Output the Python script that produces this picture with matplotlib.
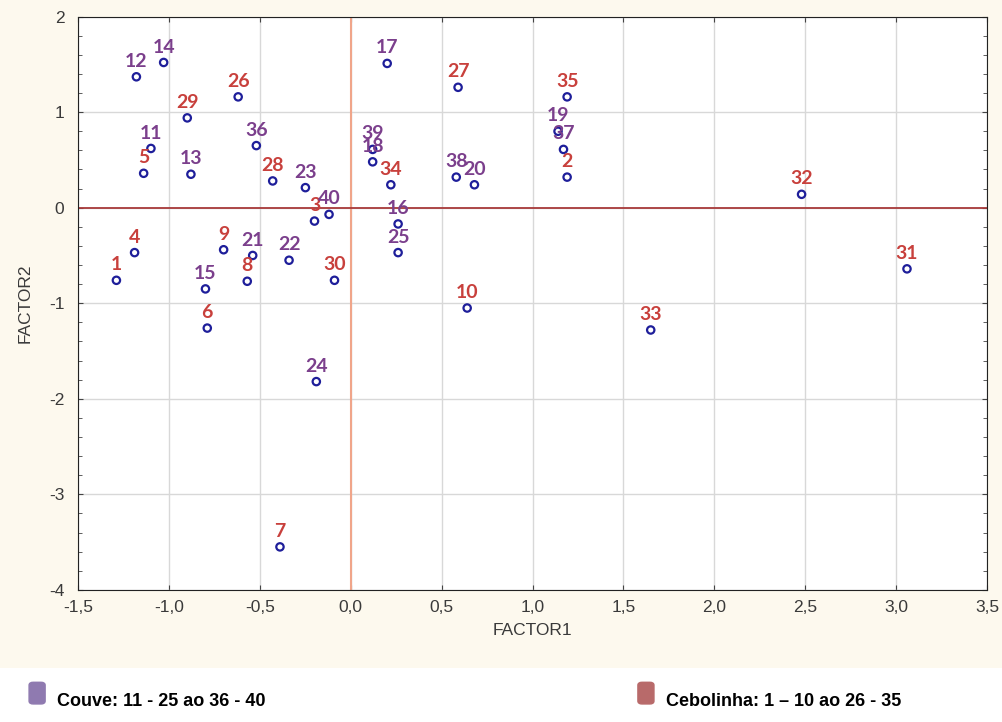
import matplotlib.pyplot as plt
from matplotlib.patches import FancyBboxPatch, Rectangle
from matplotlib.ticker import MultipleLocator, FuncFormatter

# sample ids and factor scores
ids = list(range(1, 41))
factor1 = [-1.29, 1.19, -0.20, -1.19, -1.14, -0.79, -0.39, -0.57, -0.70, 0.64,
           -1.10, -1.18, -0.88, -1.03, -0.80, 0.26, 0.20, 0.12, 1.14, 0.68,
           -0.54, -0.34, -0.25, -0.19, 0.26, -0.62, 0.59, -0.43, -0.90, -0.09,
           3.06, 2.48, 1.65, 0.22, 1.19, -0.52, 1.17, 0.58, 0.12, -0.12]
factor2 = [-0.76, 0.32, -0.14, -0.47, 0.36, -1.26, -3.55, -0.77, -0.44, -1.05,
           0.62, 1.37, 0.35, 1.52, -0.85, -0.17, 1.51, 0.48, 0.80, 0.24,
           -0.50, -0.55, 0.21, -1.82, -0.47, 1.16, 1.26, 0.28, 0.94, -0.76,
           -0.64, 0.14, -1.28, 0.24, 1.16, 0.65, 0.61, 0.32, 0.61, -0.07]
cebolinha = list(range(1, 11)) + list(range(26, 36))

purple = '#7b3f8c'
red = '#c8403c'
cream = '#fdf9ee'

plt.rcParams['font.family'] = ['Liberation Sans', 'DejaVu Sans']

fig = plt.figure(figsize=(10.03, 7.22), dpi=100)
fig.patch.set_facecolor('white')
fig.patches.append(Rectangle((0, 0.075), 1, 0.925, transform=fig.transFigure,
                             facecolor=cream, edgecolor='none', zorder=-10))
ax = fig.add_axes([0.078, 0.183, 0.906, 0.794])
ax.set_facecolor('white')

ax.set_xlim(-1.5, 3.5)
ax.set_ylim(-4, 2)
ax.xaxis.set_major_locator(MultipleLocator(0.5))
ax.yaxis.set_major_locator(MultipleLocator(1))
ax.yaxis.set_minor_locator(MultipleLocator(0.2))
ax.xaxis.set_major_formatter(FuncFormatter(lambda v, p: f'{v:.1f}'.replace('.', ',')))
ax.yaxis.set_major_formatter(FuncFormatter(lambda v, p: f'{v:.0f}'))
ax.grid(True, which='major', color='#d8d8d8', linewidth=1)
ax.set_axisbelow(True)
ax.tick_params(which='both', direction='in', top=True, right=True,
               labelsize=12.5, labelcolor='#3a3a3a', color='#444444')
ax.tick_params(axis='x', pad=7)
ax.tick_params(axis='y', pad=10)
ax.tick_params(which='minor', length=3)
for s in ax.spines.values():
    s.set_color('#222222')

ax.axvline(0, color='#f0a58a', linewidth=1.5, zorder=1)
ax.axhline(0, color='#a83a3a', linewidth=1.3, zorder=1)

ax.scatter(factor1, factor2, s=28, facecolors='none', edgecolors='#1e1e9a',
           linewidths=1.6, zorder=3)
for i, x, y in zip(ids, factor1, factor2):
    c = red if i in cebolinha else purple
    ax.annotate(str(i), (x, y), xytext=(0, 5), textcoords='offset points',
                ha='center', va='bottom', fontsize=14, fontweight='bold',
                color=c, family='Lato', zorder=4)

ax.set_xlabel('FACTOR1', fontsize=12.5, color='#3a3a3a', labelpad=6)
ax.set_ylabel('FACTOR2', fontsize=12.5, color='#3a3a3a', labelpad=12)

# legend boxes under the chart
for x0, c, label in [(0.029, '#8f7ab0', 'Couve: 11 - 25 ao 36 - 40'),
                     (0.636, '#b86a6a', 'Cebolinha: 1 \u2013 10 ao 26 - 35')]:
    fig.patches.append(FancyBboxPatch((x0, 0.025), 0.016, 0.03,
                                      boxstyle='round,pad=0,rounding_size=0.004',
                                      transform=fig.transFigure, facecolor=c,
                                      edgecolor=c, linewidth=1))
    fig.text(x0 + 0.028, 0.022, label, fontsize=13, fontweight='bold',
             color='black')

fig.savefig('out.png', dpi=100, facecolor=fig.get_facecolor())
